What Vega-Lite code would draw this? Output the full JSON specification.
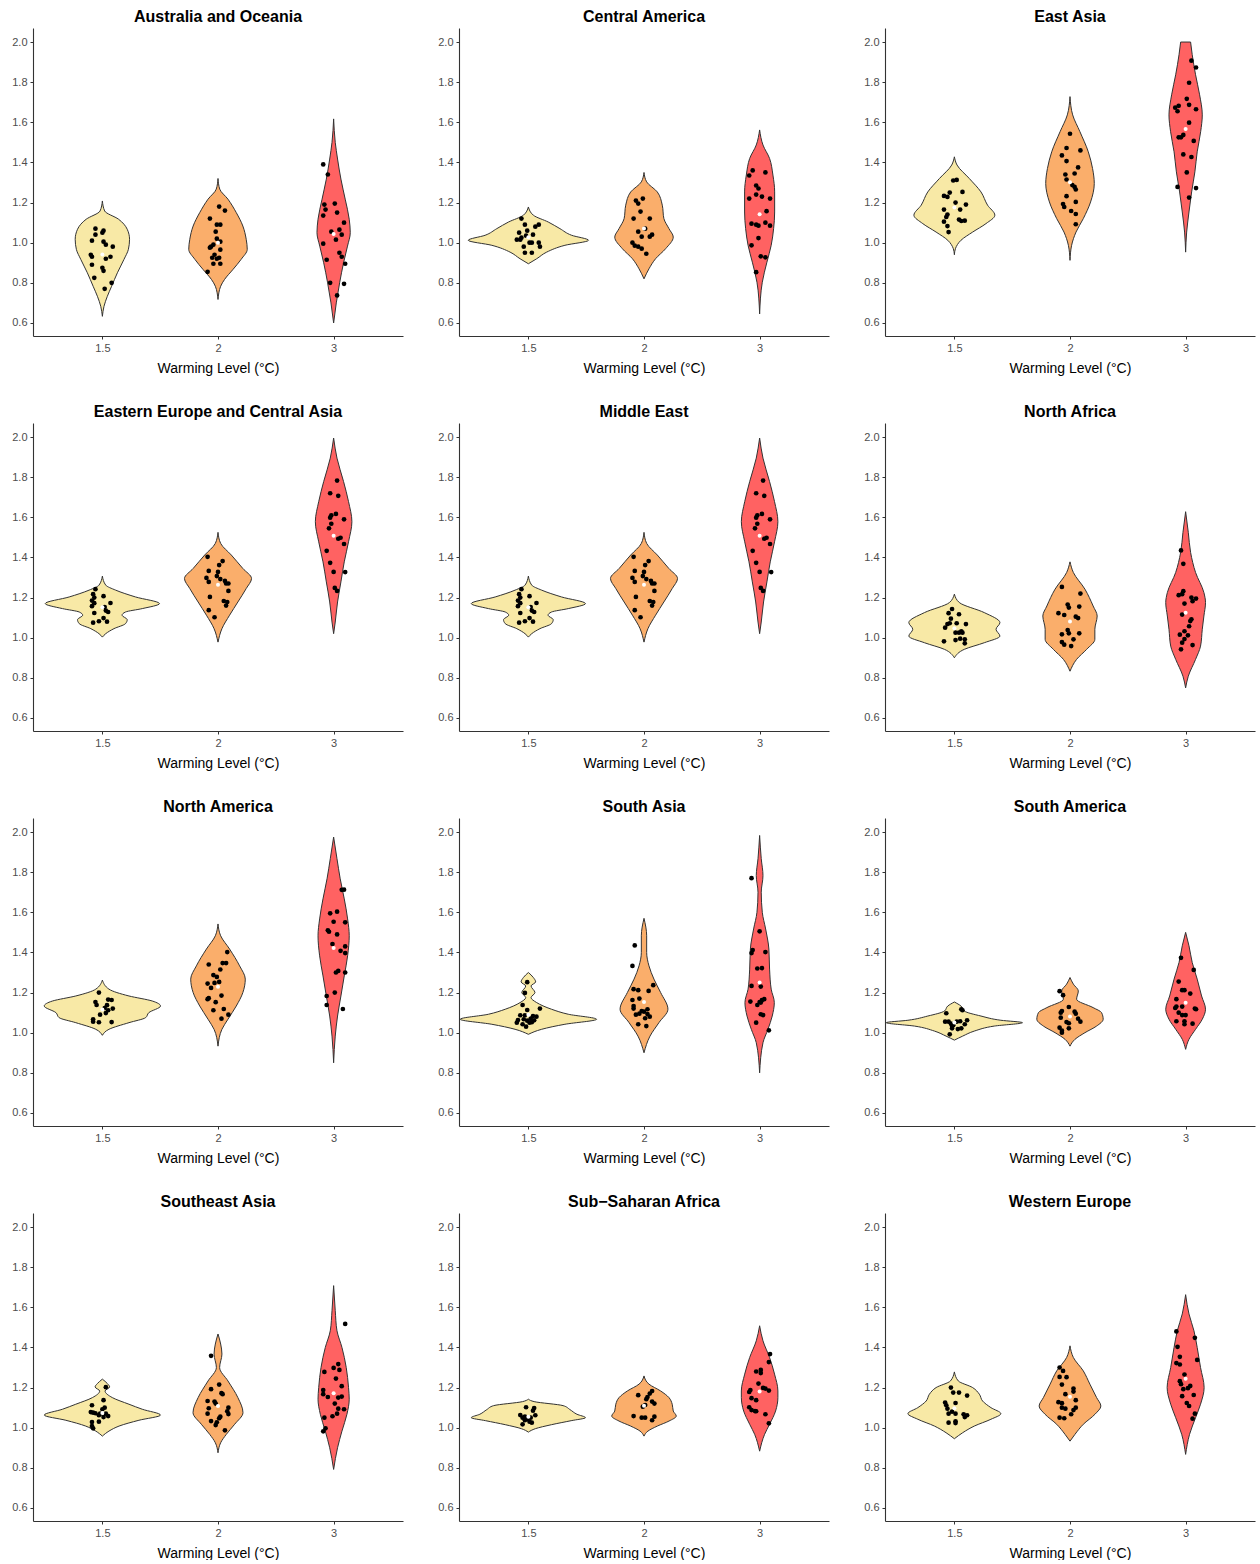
{
"$schema": "https://vega.github.io/schema/vega-lite/v6.json",
"background": "white",
"padding": {"left": 11, "top": 9, "right": 4, "bottom": 0},
"config": {
  "view": {"stroke": null},
  "font": "Liberation Sans",
  "axis": {"grid": false, "domainColor": "#333333", "domainWidth": 1.1, "tickColor": "#333333", "tickSize": 3, "labelColor": "#4D4D4D", "labelFontSize": 11, "titleFontSize": 14, "titleColor": "#000000", "titleFontWeight": "normal", "labelPadding": 3}
},
"data": {"values": [
{"r":"A","l":"1.5","y":1.208,"w":0},{"r":"A","l":"1.5","y":1.158,"w":0.02},{"r":"A","l":"1.5","y":1.117,"w":0.14},{"r":"A","l":"1.5","y":1.067,"w":0.215},{"r":"A","l":"1.5","y":1.017,"w":0.235},{"r":"A","l":"1.5","y":0.967,"w":0.225},{"r":"A","l":"1.5","y":0.917,"w":0.187},{"r":"A","l":"1.5","y":0.85,"w":0.13},{"r":"A","l":"1.5","y":0.783,"w":0.08},{"r":"A","l":"1.5","y":0.733,"w":0.043},{"r":"A","l":"1.5","y":0.683,"w":0.014},{"r":"A","l":"1.5","y":0.633,"w":0},
{"r":"A","l":"2","y":1.32,"w":0},{"r":"A","l":"2","y":1.267,"w":0.015},{"r":"A","l":"2","y":1.217,"w":0.086},{"r":"A","l":"2","y":1.15,"w":0.158},{"r":"A","l":"2","y":1.083,"w":0.215},{"r":"A","l":"2","y":1.017,"w":0.244},{"r":"A","l":"2","y":0.967,"w":0.253},{"r":"A","l":"2","y":0.917,"w":0.2},{"r":"A","l":"2","y":0.867,"w":0.13},{"r":"A","l":"2","y":0.817,"w":0.057},{"r":"A","l":"2","y":0.783,"w":0.023},{"r":"A","l":"2","y":0.717,"w":0},
{"r":"A","l":"3","y":1.617,"w":0},{"r":"A","l":"3","y":1.5,"w":0.014},{"r":"A","l":"3","y":1.417,"w":0.034},{"r":"A","l":"3","y":1.317,"w":0.063},{"r":"A","l":"3","y":1.217,"w":0.1},{"r":"A","l":"3","y":1.117,"w":0.135},{"r":"A","l":"3","y":1.05,"w":0.144},{"r":"A","l":"3","y":0.983,"w":0.12},{"r":"A","l":"3","y":0.9,"w":0.086},{"r":"A","l":"3","y":0.8,"w":0.052},{"r":"A","l":"3","y":0.7,"w":0.023},{"r":"A","l":"3","y":0.6,"w":0},
{"r":"B","l":"1.5","y":1.178,"w":0},{"r":"B","l":"1.5","y":1.137,"w":0.043},{"r":"B","l":"1.5","y":1.103,"w":0.172},{"r":"B","l":"1.5","y":1.07,"w":0.273},{"r":"B","l":"1.5","y":1.037,"w":0.374},{"r":"B","l":"1.5","y":1.012,"w":0.52},{"r":"B","l":"1.5","y":0.987,"w":0.316},{"r":"B","l":"1.5","y":0.953,"w":0.158},{"r":"B","l":"1.5","y":0.92,"w":0.072},{"r":"B","l":"1.5","y":0.895,"w":0},
{"r":"B","l":"2","y":1.35,"w":0},{"r":"B","l":"2","y":1.303,"w":0.023},{"r":"B","l":"2","y":1.253,"w":0.115},{"r":"B","l":"2","y":1.187,"w":0.158},{"r":"B","l":"2","y":1.12,"w":0.172},{"r":"B","l":"2","y":1.07,"w":0.216},{"r":"B","l":"2","y":1.028,"w":0.253},{"r":"B","l":"2","y":0.97,"w":0.187},{"r":"B","l":"2","y":0.92,"w":0.1},{"r":"B","l":"2","y":0.87,"w":0.043},{"r":"B","l":"2","y":0.82,"w":0},
{"r":"B","l":"3","y":1.562,"w":0},{"r":"B","l":"3","y":1.487,"w":0.029},{"r":"B","l":"3","y":1.42,"w":0.086},{"r":"B","l":"3","y":1.337,"w":0.115},{"r":"B","l":"3","y":1.253,"w":0.13},{"r":"B","l":"3","y":1.153,"w":0.13},{"r":"B","l":"3","y":1.07,"w":0.121},{"r":"B","l":"3","y":0.987,"w":0.1},{"r":"B","l":"3","y":0.903,"w":0.063},{"r":"B","l":"3","y":0.803,"w":0.023},{"r":"B","l":"3","y":0.645,"w":0},
{"r":"C","l":"1.5","y":1.428,"w":0},{"r":"C","l":"1.5","y":1.387,"w":0.023},{"r":"C","l":"1.5","y":1.32,"w":0.129},{"r":"C","l":"1.5","y":1.253,"w":0.23},{"r":"C","l":"1.5","y":1.187,"w":0.287},{"r":"C","l":"1.5","y":1.137,"w":0.35},{"r":"C","l":"1.5","y":1.095,"w":0.273},{"r":"C","l":"1.5","y":1.053,"w":0.158},{"r":"C","l":"1.5","y":1.012,"w":0.057},{"r":"C","l":"1.5","y":0.97,"w":0.009},{"r":"C","l":"1.5","y":0.94,"w":0},
{"r":"C","l":"2","y":1.728,"w":0},{"r":"C","l":"2","y":1.637,"w":0.023},{"r":"C","l":"2","y":1.553,"w":0.086},{"r":"C","l":"2","y":1.453,"w":0.158},{"r":"C","l":"2","y":1.37,"w":0.195},{"r":"C","l":"2","y":1.295,"w":0.21},{"r":"C","l":"2","y":1.203,"w":0.178},{"r":"C","l":"2","y":1.12,"w":0.115},{"r":"C","l":"2","y":1.053,"w":0.052},{"r":"C","l":"2","y":0.987,"w":0.014},{"r":"C","l":"2","y":0.912,"w":0},
{"r":"C","l":"3","y":2.0,"w":0.043},{"r":"C","l":"3","y":1.937,"w":0.057},{"r":"C","l":"3","y":1.837,"w":0.086},{"r":"C","l":"3","y":1.737,"w":0.121},{"r":"C","l":"3","y":1.637,"w":0.144},{"r":"C","l":"3","y":1.553,"w":0.13},{"r":"C","l":"3","y":1.453,"w":0.1},{"r":"C","l":"3","y":1.353,"w":0.08},{"r":"C","l":"3","y":1.253,"w":0.052},{"r":"C","l":"3","y":1.153,"w":0.029},{"r":"C","l":"3","y":1.053,"w":0.009},{"r":"C","l":"3","y":0.953,"w":0},
{"r":"D","l":"1.5","y":1.307,"w":0},{"r":"D","l":"1.5","y":1.262,"w":0.029},{"r":"D","l":"1.5","y":1.237,"w":0.115},{"r":"D","l":"1.5","y":1.203,"w":0.287},{"r":"D","l":"1.5","y":1.17,"w":0.494},{"r":"D","l":"1.5","y":1.145,"w":0.345},{"r":"D","l":"1.5","y":1.128,"w":0.2},{"r":"D","l":"1.5","y":1.112,"w":0.17},{"r":"D","l":"1.5","y":1.09,"w":0.215},{"r":"D","l":"1.5","y":1.07,"w":0.2},{"r":"D","l":"1.5","y":1.045,"w":0.1},{"r":"D","l":"1.5","y":1.02,"w":0.029},{"r":"D","l":"1.5","y":1.003,"w":0},
{"r":"D","l":"2","y":1.525,"w":0},{"r":"D","l":"2","y":1.47,"w":0.023},{"r":"D","l":"2","y":1.412,"w":0.115},{"r":"D","l":"2","y":1.345,"w":0.215},{"r":"D","l":"2","y":1.295,"w":0.29},{"r":"D","l":"2","y":1.245,"w":0.244},{"r":"D","l":"2","y":1.178,"w":0.172},{"r":"D","l":"2","y":1.112,"w":0.1},{"r":"D","l":"2","y":1.045,"w":0.034},{"r":"D","l":"2","y":0.978,"w":0},
{"r":"D","l":"3","y":1.995,"w":0},{"r":"D","l":"3","y":1.895,"w":0.029},{"r":"D","l":"3","y":1.778,"w":0.086},{"r":"D","l":"3","y":1.678,"w":0.129},{"r":"D","l":"3","y":1.578,"w":0.158},{"r":"D","l":"3","y":1.478,"w":0.129},{"r":"D","l":"3","y":1.378,"w":0.092},{"r":"D","l":"3","y":1.278,"w":0.063},{"r":"D","l":"3","y":1.178,"w":0.034},{"r":"D","l":"3","y":1.078,"w":0.014},{"r":"D","l":"3","y":1.02,"w":0},
{"r":"E","l":"1.5","y":1.307,"w":0},{"r":"E","l":"1.5","y":1.262,"w":0.029},{"r":"E","l":"1.5","y":1.237,"w":0.115},{"r":"E","l":"1.5","y":1.203,"w":0.287},{"r":"E","l":"1.5","y":1.17,"w":0.494},{"r":"E","l":"1.5","y":1.145,"w":0.345},{"r":"E","l":"1.5","y":1.128,"w":0.2},{"r":"E","l":"1.5","y":1.112,"w":0.17},{"r":"E","l":"1.5","y":1.09,"w":0.215},{"r":"E","l":"1.5","y":1.07,"w":0.2},{"r":"E","l":"1.5","y":1.045,"w":0.1},{"r":"E","l":"1.5","y":1.02,"w":0.029},{"r":"E","l":"1.5","y":1.003,"w":0},
{"r":"E","l":"2","y":1.525,"w":0},{"r":"E","l":"2","y":1.47,"w":0.023},{"r":"E","l":"2","y":1.412,"w":0.115},{"r":"E","l":"2","y":1.345,"w":0.215},{"r":"E","l":"2","y":1.295,"w":0.29},{"r":"E","l":"2","y":1.245,"w":0.244},{"r":"E","l":"2","y":1.178,"w":0.172},{"r":"E","l":"2","y":1.112,"w":0.1},{"r":"E","l":"2","y":1.045,"w":0.034},{"r":"E","l":"2","y":0.978,"w":0},
{"r":"E","l":"3","y":1.995,"w":0},{"r":"E","l":"3","y":1.895,"w":0.029},{"r":"E","l":"3","y":1.778,"w":0.086},{"r":"E","l":"3","y":1.678,"w":0.129},{"r":"E","l":"3","y":1.578,"w":0.158},{"r":"E","l":"3","y":1.478,"w":0.129},{"r":"E","l":"3","y":1.378,"w":0.092},{"r":"E","l":"3","y":1.278,"w":0.063},{"r":"E","l":"3","y":1.178,"w":0.034},{"r":"E","l":"3","y":1.078,"w":0.014},{"r":"E","l":"3","y":1.02,"w":0},
{"r":"F","l":"1.5","y":1.217,"w":0},{"r":"F","l":"1.5","y":1.175,"w":0.043},{"r":"F","l":"1.5","y":1.125,"w":0.259},{"r":"F","l":"1.5","y":1.075,"w":0.394},{"r":"F","l":"1.5","y":1.042,"w":0.36},{"r":"F","l":"1.5","y":1.008,"w":0.394},{"r":"F","l":"1.5","y":0.975,"w":0.259},{"r":"F","l":"1.5","y":0.942,"w":0.086},{"r":"F","l":"1.5","y":0.9,"w":0},
{"r":"F","l":"2","y":1.378,"w":0},{"r":"F","l":"2","y":1.325,"w":0.029},{"r":"F","l":"2","y":1.242,"w":0.129},{"r":"F","l":"2","y":1.158,"w":0.2},{"r":"F","l":"2","y":1.108,"w":0.235},{"r":"F","l":"2","y":1.042,"w":0.215},{"r":"F","l":"2","y":0.992,"w":0.215},{"r":"F","l":"2","y":0.942,"w":0.144},{"r":"F","l":"2","y":0.892,"w":0.057},{"r":"F","l":"2","y":0.833,"w":0},
{"r":"F","l":"3","y":1.628,"w":0},{"r":"F","l":"3","y":1.525,"w":0.023},{"r":"F","l":"3","y":1.425,"w":0.043},{"r":"F","l":"3","y":1.325,"w":0.086},{"r":"F","l":"3","y":1.225,"w":0.158},{"r":"F","l":"3","y":1.175,"w":0.172},{"r":"F","l":"3","y":1.108,"w":0.158},{"r":"F","l":"3","y":1.042,"w":0.144},{"r":"F","l":"3","y":0.958,"w":0.129},{"r":"F","l":"3","y":0.892,"w":0.086},{"r":"F","l":"3","y":0.808,"w":0.023},{"r":"F","l":"3","y":0.75,"w":0},
{"r":"G","l":"1.5","y":1.262,"w":0},{"r":"G","l":"1.5","y":1.217,"w":0.057},{"r":"G","l":"1.5","y":1.183,"w":0.23},{"r":"G","l":"1.5","y":1.158,"w":0.431},{"r":"G","l":"1.5","y":1.133,"w":0.503},{"r":"G","l":"1.5","y":1.1,"w":0.402},{"r":"G","l":"1.5","y":1.075,"w":0.374},{"r":"G","l":"1.5","y":1.05,"w":0.23},{"r":"G","l":"1.5","y":1.017,"w":0.057},{"r":"G","l":"1.5","y":0.987,"w":0},
{"r":"G","l":"2","y":1.542,"w":0},{"r":"G","l":"2","y":1.483,"w":0.023},{"r":"G","l":"2","y":1.417,"w":0.1},{"r":"G","l":"2","y":1.333,"w":0.187},{"r":"G","l":"2","y":1.267,"w":0.236},{"r":"G","l":"2","y":1.2,"w":0.215},{"r":"G","l":"2","y":1.133,"w":0.158},{"r":"G","l":"2","y":1.067,"w":0.086},{"r":"G","l":"2","y":1.017,"w":0.034},{"r":"G","l":"2","y":0.933,"w":0},
{"r":"G","l":"3","y":1.975,"w":0},{"r":"G","l":"3","y":1.867,"w":0.029},{"r":"G","l":"3","y":1.767,"w":0.057},{"r":"G","l":"3","y":1.667,"w":0.092},{"r":"G","l":"3","y":1.567,"w":0.121},{"r":"G","l":"3","y":1.483,"w":0.135},{"r":"G","l":"3","y":1.383,"w":0.121},{"r":"G","l":"3","y":1.283,"w":0.092},{"r":"G","l":"3","y":1.183,"w":0.063},{"r":"G","l":"3","y":1.083,"w":0.034},{"r":"G","l":"3","y":0.983,"w":0.014},{"r":"G","l":"3","y":0.85,"w":0},
{"r":"H","l":"1.5","y":1.3,"w":0},{"r":"H","l":"1.5","y":1.275,"w":0.043},{"r":"H","l":"1.5","y":1.253,"w":0.063},{"r":"H","l":"1.5","y":1.233,"w":0.023},{"r":"H","l":"1.5","y":1.2,"w":0.057},{"r":"H","l":"1.5","y":1.175,"w":0.023},{"r":"H","l":"1.5","y":1.15,"w":0.072},{"r":"H","l":"1.5","y":1.117,"w":0.2},{"r":"H","l":"1.5","y":1.092,"w":0.345},{"r":"H","l":"1.5","y":1.067,"w":0.59},{"r":"H","l":"1.5","y":1.042,"w":0.316},{"r":"H","l":"1.5","y":1.017,"w":0.115},{"r":"H","l":"1.5","y":0.992,"w":0},
{"r":"H","l":"2","y":1.57,"w":0},{"r":"H","l":"2","y":1.483,"w":0.023},{"r":"H","l":"2","y":1.4,"w":0.023},{"r":"H","l":"2","y":1.333,"w":0.043},{"r":"H","l":"2","y":1.267,"w":0.086},{"r":"H","l":"2","y":1.2,"w":0.144},{"r":"H","l":"2","y":1.117,"w":0.207},{"r":"H","l":"2","y":1.05,"w":0.129},{"r":"H","l":"2","y":0.983,"w":0.052},{"r":"H","l":"2","y":0.9,"w":0},
{"r":"H","l":"3","y":1.983,"w":0},{"r":"H","l":"3","y":1.867,"w":0.014},{"r":"H","l":"3","y":1.783,"w":0.029},{"r":"H","l":"3","y":1.7,"w":0.014},{"r":"H","l":"3","y":1.6,"w":0.023},{"r":"H","l":"3","y":1.517,"w":0.052},{"r":"H","l":"3","y":1.417,"w":0.08},{"r":"H","l":"3","y":1.317,"w":0.086},{"r":"H","l":"3","y":1.217,"w":0.1},{"r":"H","l":"3","y":1.15,"w":0.127},{"r":"H","l":"3","y":1.083,"w":0.109},{"r":"H","l":"3","y":1.017,"w":0.072},{"r":"H","l":"3","y":0.95,"w":0.029},{"r":"H","l":"3","y":0.8,"w":0},
{"r":"I","l":"1.5","y":1.153,"w":0},{"r":"I","l":"1.5","y":1.133,"w":0.057},{"r":"I","l":"1.5","y":1.108,"w":0.086},{"r":"I","l":"1.5","y":1.083,"w":0.23},{"r":"I","l":"1.5","y":1.062,"w":0.402},{"r":"I","l":"1.5","y":1.05,"w":0.589},{"r":"I","l":"1.5","y":1.033,"w":0.345},{"r":"I","l":"1.5","y":1.008,"w":0.172},{"r":"I","l":"1.5","y":0.983,"w":0.072},{"r":"I","l":"1.5","y":0.963,"w":0},
{"r":"I","l":"2","y":1.275,"w":0},{"r":"I","l":"2","y":1.242,"w":0.029},{"r":"I","l":"2","y":1.208,"w":0.072},{"r":"I","l":"2","y":1.167,"w":0.057},{"r":"I","l":"2","y":1.125,"w":0.2},{"r":"I","l":"2","y":1.1,"w":0.273},{"r":"I","l":"2","y":1.067,"w":0.287},{"r":"I","l":"2","y":1.033,"w":0.23},{"r":"I","l":"2","y":1.0,"w":0.129},{"r":"I","l":"2","y":0.967,"w":0.043},{"r":"I","l":"2","y":0.933,"w":0},
{"r":"I","l":"3","y":1.5,"w":0},{"r":"I","l":"3","y":1.433,"w":0.029},{"r":"I","l":"3","y":1.35,"w":0.057},{"r":"I","l":"3","y":1.267,"w":0.1},{"r":"I","l":"3","y":1.183,"w":0.138},{"r":"I","l":"3","y":1.117,"w":0.172},{"r":"I","l":"3","y":1.067,"w":0.144},{"r":"I","l":"3","y":1.017,"w":0.086},{"r":"I","l":"3","y":0.967,"w":0.029},{"r":"I","l":"3","y":0.917,"w":0},
{"r":"J","l":"1.5","y":1.242,"w":0},{"r":"J","l":"1.5","y":1.22,"w":0.043},{"r":"J","l":"1.5","y":1.203,"w":0.063},{"r":"J","l":"1.5","y":1.183,"w":0.023},{"r":"J","l":"1.5","y":1.15,"w":0.086},{"r":"J","l":"1.5","y":1.117,"w":0.23},{"r":"J","l":"1.5","y":1.092,"w":0.345},{"r":"J","l":"1.5","y":1.063,"w":0.503},{"r":"J","l":"1.5","y":1.037,"w":0.316},{"r":"J","l":"1.5","y":1.008,"w":0.144},{"r":"J","l":"1.5","y":0.983,"w":0.057},{"r":"J","l":"1.5","y":0.958,"w":0},
{"r":"J","l":"2","y":1.467,"w":0},{"r":"J","l":"2","y":1.417,"w":0.023},{"r":"J","l":"2","y":1.367,"w":0.034},{"r":"J","l":"2","y":1.3,"w":0.014},{"r":"J","l":"2","y":1.233,"w":0.086},{"r":"J","l":"2","y":1.15,"w":0.172},{"r":"J","l":"2","y":1.075,"w":0.216},{"r":"J","l":"2","y":1.017,"w":0.144},{"r":"J","l":"2","y":0.967,"w":0.072},{"r":"J","l":"2","y":0.925,"w":0.023},{"r":"J","l":"2","y":0.875,"w":0},
{"r":"J","l":"3","y":1.708,"w":0},{"r":"J","l":"3","y":1.583,"w":0.014},{"r":"J","l":"3","y":1.483,"w":0.029},{"r":"J","l":"3","y":1.4,"w":0.072},{"r":"J","l":"3","y":1.3,"w":0.109},{"r":"J","l":"3","y":1.2,"w":0.129},{"r":"J","l":"3","y":1.142,"w":0.135},{"r":"J","l":"3","y":1.067,"w":0.115},{"r":"J","l":"3","y":0.983,"w":0.072},{"r":"J","l":"3","y":0.9,"w":0.034},{"r":"J","l":"3","y":0.792,"w":0},
{"r":"K","l":"1.5","y":1.142,"w":0},{"r":"K","l":"1.5","y":1.13,"w":0.05},{"r":"K","l":"1.5","y":1.11,"w":0.3},{"r":"K","l":"1.5","y":1.09,"w":0.36},{"r":"K","l":"1.5","y":1.067,"w":0.42},{"r":"K","l":"1.5","y":1.05,"w":0.494},{"r":"K","l":"1.5","y":1.035,"w":0.37},{"r":"K","l":"1.5","y":1.015,"w":0.2},{"r":"K","l":"1.5","y":0.995,"w":0.06},{"r":"K","l":"1.5","y":0.978,"w":0},
{"r":"K","l":"2","y":1.258,"w":0},{"r":"K","l":"2","y":1.217,"w":0.043},{"r":"K","l":"2","y":1.183,"w":0.144},{"r":"K","l":"2","y":1.15,"w":0.216},{"r":"K","l":"2","y":1.117,"w":0.244},{"r":"K","l":"2","y":1.083,"w":0.253},{"r":"K","l":"2","y":1.058,"w":0.279},{"r":"K","l":"2","y":1.033,"w":0.216},{"r":"K","l":"2","y":1.008,"w":0.115},{"r":"K","l":"2","y":0.983,"w":0.034},{"r":"K","l":"2","y":0.958,"w":0},
{"r":"K","l":"3","y":1.508,"w":0},{"r":"K","l":"3","y":1.433,"w":0.029},{"r":"K","l":"3","y":1.35,"w":0.086},{"r":"K","l":"3","y":1.267,"w":0.129},{"r":"K","l":"3","y":1.183,"w":0.158},{"r":"K","l":"3","y":1.15,"w":0.158},{"r":"K","l":"3","y":1.083,"w":0.138},{"r":"K","l":"3","y":1.017,"w":0.086},{"r":"K","l":"3","y":0.967,"w":0.043},{"r":"K","l":"3","y":0.883,"w":0},
{"r":"L","l":"1.5","y":1.278,"w":0},{"r":"L","l":"1.5","y":1.233,"w":0.034},{"r":"L","l":"1.5","y":1.2,"w":0.158},{"r":"L","l":"1.5","y":1.167,"w":0.216},{"r":"L","l":"1.5","y":1.133,"w":0.244},{"r":"L","l":"1.5","y":1.1,"w":0.316},{"r":"L","l":"1.5","y":1.07,"w":0.402},{"r":"L","l":"1.5","y":1.042,"w":0.316},{"r":"L","l":"1.5","y":1.008,"w":0.172},{"r":"L","l":"1.5","y":0.975,"w":0.072},{"r":"L","l":"1.5","y":0.945,"w":0},
{"r":"L","l":"2","y":1.408,"w":0},{"r":"L","l":"2","y":1.35,"w":0.029},{"r":"L","l":"2","y":1.283,"w":0.115},{"r":"L","l":"2","y":1.217,"w":0.172},{"r":"L","l":"2","y":1.15,"w":0.23},{"r":"L","l":"2","y":1.108,"w":0.267},{"r":"L","l":"2","y":1.067,"w":0.216},{"r":"L","l":"2","y":1.017,"w":0.115},{"r":"L","l":"2","y":0.967,"w":0.043},{"r":"L","l":"2","y":0.933,"w":0},
{"r":"L","l":"3","y":1.663,"w":0},{"r":"L","l":"3","y":1.567,"w":0.029},{"r":"L","l":"3","y":1.483,"w":0.072},{"r":"L","l":"3","y":1.4,"w":0.1},{"r":"L","l":"3","y":1.3,"w":0.129},{"r":"L","l":"3","y":1.2,"w":0.16},{"r":"L","l":"3","y":1.117,"w":0.129},{"r":"L","l":"3","y":1.05,"w":0.086},{"r":"L","l":"3","y":0.967,"w":0.034},{"r":"L","l":"3","y":0.867,"w":0},
{"r":"A","l":"1.5","v":1.07,"j":-0.06},{"r":"A","l":"1.5","v":1.06,"j":0.01},{"r":"A","l":"1.5","v":1.04,"j":-0.06},{"r":"A","l":"1.5","v":1.05,"j":0},{"r":"A","l":"1.5","v":1.01,"j":-0.09},{"r":"A","l":"1.5","v":1.005,"j":0.01},{"r":"A","l":"1.5","v":0.99,"j":0.03},{"r":"A","l":"1.5","v":0.98,"j":0.09},{"r":"A","l":"1.5","v":0.94,"j":-0.1},{"r":"A","l":"1.5","v":0.93,"j":-0.09},{"r":"A","l":"1.5","v":0.93,"j":0.07},{"r":"A","l":"1.5","v":0.92,"j":0.03},{"r":"A","l":"1.5","v":0.89,"j":-0.09},{"r":"A","l":"1.5","v":0.875,"j":0},{"r":"A","l":"1.5","v":0.86,"j":0.01},{"r":"A","l":"1.5","v":0.825,"j":-0.07},{"r":"A","l":"1.5","v":0.8,"j":0.08},{"r":"A","l":"1.5","v":0.77,"j":0.02},
{"r":"A","l":"2","v":1.18,"j":0.01},{"r":"A","l":"2","v":1.16,"j":0.06},{"r":"A","l":"2","v":1.12,"j":-0.07},{"r":"A","l":"2","v":1.09,"j":-0.01},{"r":"A","l":"2","v":1.09,"j":0.02},{"r":"A","l":"2","v":1.055,"j":-0.02},{"r":"A","l":"2","v":1.02,"j":-0.01},{"r":"A","l":"2","v":1.005,"j":0.02},{"r":"A","l":"2","v":0.99,"j":-0.04},{"r":"A","l":"2","v":0.98,"j":-0.06},{"r":"A","l":"2","v":0.975,"j":-0.07},{"r":"A","l":"2","v":0.965,"j":0.02},{"r":"A","l":"2","v":0.94,"j":-0.03},{"r":"A","l":"2","v":0.925,"j":-0.05},{"r":"A","l":"2","v":0.925,"j":0.01},{"r":"A","l":"2","v":0.92,"j":-0.01},{"r":"A","l":"2","v":0.895,"j":-0.04},{"r":"A","l":"2","v":0.895,"j":0.02},{"r":"A","l":"2","v":0.855,"j":-0.09},
{"r":"A","l":"3","v":1.39,"j":-0.09},{"r":"A","l":"3","v":1.34,"j":-0.05},{"r":"A","l":"3","v":1.19,"j":-0.08},{"r":"A","l":"3","v":1.195,"j":0.01},{"r":"A","l":"3","v":1.165,"j":-0.07},{"r":"A","l":"3","v":1.15,"j":0.03},{"r":"A","l":"3","v":1.135,"j":-0.09},{"r":"A","l":"3","v":1.1,"j":0.09},{"r":"A","l":"3","v":1.055,"j":-0.02},{"r":"A","l":"3","v":1.065,"j":0.05},{"r":"A","l":"3","v":1.04,"j":0.07},{"r":"A","l":"3","v":1.015,"j":0.02},{"r":"A","l":"3","v":0.995,"j":-0.09},{"r":"A","l":"3","v":0.95,"j":0.05},{"r":"A","l":"3","v":0.93,"j":0.07},{"r":"A","l":"3","v":0.915,"j":-0.06},{"r":"A","l":"3","v":0.895,"j":0.1},{"r":"A","l":"3","v":0.8,"j":-0.03},{"r":"A","l":"3","v":0.795,"j":0.09},{"r":"A","l":"3","v":0.737,"j":0.03},
{"r":"B","l":"1.5","v":1.12,"j":-0.06},{"r":"B","l":"1.5","v":1.09,"j":-0.03},{"r":"B","l":"1.5","v":1.09,"j":0.09},{"r":"B","l":"1.5","v":1.08,"j":0.06},{"r":"B","l":"1.5","v":1.06,"j":-0.01},{"r":"B","l":"1.5","v":1.05,"j":-0.08},{"r":"B","l":"1.5","v":1.04,"j":0.04},{"r":"B","l":"1.5","v":1.035,"j":-0.02},{"r":"B","l":"1.5","v":1.025,"j":-0.06},{"r":"B","l":"1.5","v":1.015,"j":-0.1},{"r":"B","l":"1.5","v":1.015,"j":-0.07},{"r":"B","l":"1.5","v":1.0,"j":0.01},{"r":"B","l":"1.5","v":1.0,"j":0.03},{"r":"B","l":"1.5","v":1.0,"j":0.09},{"r":"B","l":"1.5","v":0.98,"j":-0.04},{"r":"B","l":"1.5","v":0.98,"j":0.1},{"r":"B","l":"1.5","v":0.95,"j":-0.03},{"r":"B","l":"1.5","v":0.95,"j":0.03},
{"r":"B","l":"2","v":1.21,"j":-0.07},{"r":"B","l":"2","v":1.22,"j":-0.01},{"r":"B","l":"2","v":1.195,"j":-0.05},{"r":"B","l":"2","v":1.155,"j":-0.03},{"r":"B","l":"2","v":1.12,"j":-0.09},{"r":"B","l":"2","v":1.12,"j":0.05},{"r":"B","l":"2","v":1.055,"j":-0.05},{"r":"B","l":"2","v":1.07,"j":0.01},{"r":"B","l":"2","v":1.03,"j":-0.02},{"r":"B","l":"2","v":1.04,"j":0.07},{"r":"B","l":"2","v":1.03,"j":0.05},{"r":"B","l":"2","v":1.0,"j":-0.1},{"r":"B","l":"2","v":0.985,"j":-0.08},{"r":"B","l":"2","v":0.98,"j":-0.05},{"r":"B","l":"2","v":0.97,"j":-0.02},{"r":"B","l":"2","v":0.945,"j":0.02},
{"r":"B","l":"3","v":1.335,"j":-0.09},{"r":"B","l":"3","v":1.36,"j":-0.06},{"r":"B","l":"3","v":1.35,"j":0.05},{"r":"B","l":"3","v":1.285,"j":-0.03},{"r":"B","l":"3","v":1.27,"j":-0.01},{"r":"B","l":"3","v":1.24,"j":-0.03},{"r":"B","l":"3","v":1.23,"j":0.02},{"r":"B","l":"3","v":1.22,"j":-0.09},{"r":"B","l":"3","v":1.22,"j":0.09},{"r":"B","l":"3","v":1.157,"j":0.06},{"r":"B","l":"3","v":1.095,"j":-0.07},{"r":"B","l":"3","v":1.09,"j":-0.03},{"r":"B","l":"3","v":1.1,"j":0.05},{"r":"B","l":"3","v":1.085,"j":-0.01},{"r":"B","l":"3","v":1.085,"j":0.09},{"r":"B","l":"3","v":1.023,"j":-0.01},{"r":"B","l":"3","v":0.987,"j":-0.07},{"r":"B","l":"3","v":0.932,"j":0.01},{"r":"B","l":"3","v":0.927,"j":0.05},{"r":"B","l":"3","v":0.853,"j":-0.03},
{"r":"C","l":"1.5","v":1.31,"j":-0.01},{"r":"C","l":"1.5","v":1.313,"j":0.02},{"r":"C","l":"1.5","v":1.233,"j":-0.09},{"r":"C","l":"1.5","v":1.228,"j":-0.06},{"r":"C","l":"1.5","v":1.25,"j":-0.04},{"r":"C","l":"1.5","v":1.253,"j":0.07},{"r":"C","l":"1.5","v":1.2,"j":0.01},{"r":"C","l":"1.5","v":1.19,"j":0.1},{"r":"C","l":"1.5","v":1.165,"j":-0.09},{"r":"C","l":"1.5","v":1.165,"j":0.05},{"r":"C","l":"1.5","v":1.14,"j":-0.06},{"r":"C","l":"1.5","v":1.128,"j":-0.07},{"r":"C","l":"1.5","v":1.105,"j":-0.09},{"r":"C","l":"1.5","v":1.115,"j":0.04},{"r":"C","l":"1.5","v":1.108,"j":0.06},{"r":"C","l":"1.5","v":1.11,"j":0.09},{"r":"C","l":"1.5","v":1.083,"j":-0.06},{"r":"C","l":"1.5","v":1.053,"j":-0.05},
{"r":"C","l":"2","v":1.543,"j":0},{"r":"C","l":"2","v":1.472,"j":-0.03},{"r":"C","l":"2","v":1.46,"j":0.09},{"r":"C","l":"2","v":1.435,"j":-0.07},{"r":"C","l":"2","v":1.407,"j":-0.03},{"r":"C","l":"2","v":1.375,"j":0.07},{"r":"C","l":"2","v":1.345,"j":0.04},{"r":"C","l":"2","v":1.34,"j":-0.04},{"r":"C","l":"2","v":1.315,"j":-0.03},{"r":"C","l":"2","v":1.287,"j":0.02},{"r":"C","l":"2","v":1.278,"j":0.04},{"r":"C","l":"2","v":1.265,"j":0.05},{"r":"C","l":"2","v":1.232,"j":-0.03},{"r":"C","l":"2","v":1.193,"j":-0.06},{"r":"C","l":"2","v":1.203,"j":0.05},{"r":"C","l":"2","v":1.178,"j":-0.05},{"r":"C","l":"2","v":1.158,"j":0.01},{"r":"C","l":"2","v":1.143,"j":0.05},{"r":"C","l":"2","v":1.092,"j":0.05},
{"r":"C","l":"3","v":1.907,"j":0.05},{"r":"C","l":"3","v":1.873,"j":0.09},{"r":"C","l":"3","v":1.797,"j":0.03},{"r":"C","l":"3","v":1.717,"j":0.01},{"r":"C","l":"3","v":1.687,"j":0.03},{"r":"C","l":"3","v":1.673,"j":-0.09},{"r":"C","l":"3","v":1.655,"j":-0.07},{"r":"C","l":"3","v":1.682,"j":-0.06},{"r":"C","l":"3","v":1.665,"j":0.09},{"r":"C","l":"3","v":1.598,"j":0.03},{"r":"C","l":"3","v":1.537,"j":-0.02},{"r":"C","l":"3","v":1.525,"j":-0.04},{"r":"C","l":"3","v":1.525,"j":-0.06},{"r":"C","l":"3","v":1.507,"j":0.07},{"r":"C","l":"3","v":1.44,"j":-0.02},{"r":"C","l":"3","v":1.427,"j":0.05},{"r":"C","l":"3","v":1.35,"j":0.01},{"r":"C","l":"3","v":1.278,"j":-0.07},{"r":"C","l":"3","v":1.272,"j":0.09},{"r":"C","l":"3","v":1.225,"j":0.03},
{"r":"D","l":"1.5","v":1.242,"j":-0.06},{"r":"D","l":"1.5","v":1.217,"j":-0.08},{"r":"D","l":"1.5","v":1.2,"j":-0.07},{"r":"D","l":"1.5","v":1.207,"j":0.01},{"r":"D","l":"1.5","v":1.185,"j":-0.09},{"r":"D","l":"1.5","v":1.172,"j":-0.07},{"r":"D","l":"1.5","v":1.173,"j":0.07},{"r":"D","l":"1.5","v":1.153,"j":0.02},{"r":"D","l":"1.5","v":1.157,"j":-0.09},{"r":"D","l":"1.5","v":1.135,"j":0.03},{"r":"D","l":"1.5","v":1.128,"j":0.05},{"r":"D","l":"1.5","v":1.123,"j":-0.07},{"r":"D","l":"1.5","v":1.098,"j":0.01},{"r":"D","l":"1.5","v":1.075,"j":-0.08},{"r":"D","l":"1.5","v":1.082,"j":-0.03},{"r":"D","l":"1.5","v":1.08,"j":0.04},
{"r":"D","l":"2","v":1.403,"j":-0.09},{"r":"D","l":"2","v":1.382,"j":0.04},{"r":"D","l":"2","v":1.362,"j":0.01},{"r":"D","l":"2","v":1.333,"j":-0.08},{"r":"D","l":"2","v":1.328,"j":0},{"r":"D","l":"2","v":1.307,"j":-0.01},{"r":"D","l":"2","v":1.298,"j":-0.1},{"r":"D","l":"2","v":1.292,"j":0.02},{"r":"D","l":"2","v":1.283,"j":0.06},{"r":"D","l":"2","v":1.278,"j":-0.08},{"r":"D","l":"2","v":1.27,"j":0.09},{"r":"D","l":"2","v":1.27,"j":0.07},{"r":"D","l":"2","v":1.233,"j":0.09},{"r":"D","l":"2","v":1.203,"j":-0.07},{"r":"D","l":"2","v":1.183,"j":0.05},{"r":"D","l":"2","v":1.178,"j":0.08},{"r":"D","l":"2","v":1.16,"j":0.07},{"r":"D","l":"2","v":1.137,"j":-0.08},{"r":"D","l":"2","v":1.102,"j":-0.03},
{"r":"D","l":"3","v":1.783,"j":0.03},{"r":"D","l":"3","v":1.72,"j":-0.03},{"r":"D","l":"3","v":1.707,"j":0.04},{"r":"D","l":"3","v":1.617,"j":0.02},{"r":"D","l":"3","v":1.61,"j":-0.02},{"r":"D","l":"3","v":1.598,"j":-0.03},{"r":"D","l":"3","v":1.59,"j":0.09},{"r":"D","l":"3","v":1.568,"j":-0.02},{"r":"D","l":"3","v":1.545,"j":-0.04},{"r":"D","l":"3","v":1.498,"j":0.06},{"r":"D","l":"3","v":1.493,"j":0.04},{"r":"D","l":"3","v":1.467,"j":0.09},{"r":"D","l":"3","v":1.433,"j":-0.06},{"r":"D","l":"3","v":1.373,"j":-0.03},{"r":"D","l":"3","v":1.328,"j":0},{"r":"D","l":"3","v":1.327,"j":0.1},{"r":"D","l":"3","v":1.248,"j":0.01},{"r":"D","l":"3","v":1.233,"j":0.03},
{"r":"E","l":"1.5","v":1.242,"j":-0.06},{"r":"E","l":"1.5","v":1.217,"j":-0.08},{"r":"E","l":"1.5","v":1.2,"j":-0.07},{"r":"E","l":"1.5","v":1.207,"j":0.01},{"r":"E","l":"1.5","v":1.185,"j":-0.09},{"r":"E","l":"1.5","v":1.172,"j":-0.07},{"r":"E","l":"1.5","v":1.173,"j":0.07},{"r":"E","l":"1.5","v":1.153,"j":0.02},{"r":"E","l":"1.5","v":1.157,"j":-0.09},{"r":"E","l":"1.5","v":1.135,"j":0.03},{"r":"E","l":"1.5","v":1.128,"j":0.05},{"r":"E","l":"1.5","v":1.123,"j":-0.07},{"r":"E","l":"1.5","v":1.098,"j":0.01},{"r":"E","l":"1.5","v":1.075,"j":-0.08},{"r":"E","l":"1.5","v":1.082,"j":-0.03},{"r":"E","l":"1.5","v":1.08,"j":0.04},
{"r":"E","l":"2","v":1.403,"j":-0.09},{"r":"E","l":"2","v":1.382,"j":0.04},{"r":"E","l":"2","v":1.362,"j":0.01},{"r":"E","l":"2","v":1.333,"j":-0.08},{"r":"E","l":"2","v":1.328,"j":0},{"r":"E","l":"2","v":1.307,"j":-0.01},{"r":"E","l":"2","v":1.298,"j":-0.1},{"r":"E","l":"2","v":1.292,"j":0.02},{"r":"E","l":"2","v":1.283,"j":0.06},{"r":"E","l":"2","v":1.278,"j":-0.08},{"r":"E","l":"2","v":1.27,"j":0.09},{"r":"E","l":"2","v":1.27,"j":0.07},{"r":"E","l":"2","v":1.233,"j":0.09},{"r":"E","l":"2","v":1.203,"j":-0.07},{"r":"E","l":"2","v":1.183,"j":0.05},{"r":"E","l":"2","v":1.178,"j":0.08},{"r":"E","l":"2","v":1.16,"j":0.07},{"r":"E","l":"2","v":1.137,"j":-0.08},{"r":"E","l":"2","v":1.102,"j":-0.03},
{"r":"E","l":"3","v":1.783,"j":0.03},{"r":"E","l":"3","v":1.72,"j":-0.03},{"r":"E","l":"3","v":1.707,"j":0.04},{"r":"E","l":"3","v":1.617,"j":0.02},{"r":"E","l":"3","v":1.61,"j":-0.02},{"r":"E","l":"3","v":1.598,"j":-0.03},{"r":"E","l":"3","v":1.59,"j":0.09},{"r":"E","l":"3","v":1.568,"j":-0.02},{"r":"E","l":"3","v":1.545,"j":-0.04},{"r":"E","l":"3","v":1.498,"j":0.06},{"r":"E","l":"3","v":1.493,"j":0.04},{"r":"E","l":"3","v":1.467,"j":0.09},{"r":"E","l":"3","v":1.433,"j":-0.06},{"r":"E","l":"3","v":1.373,"j":-0.03},{"r":"E","l":"3","v":1.328,"j":0},{"r":"E","l":"3","v":1.327,"j":0.1},{"r":"E","l":"3","v":1.248,"j":0.01},{"r":"E","l":"3","v":1.233,"j":0.03},
{"r":"F","l":"1.5","v":1.143,"j":-0.02},{"r":"F","l":"1.5","v":1.122,"j":-0.05},{"r":"F","l":"1.5","v":1.117,"j":0.04},{"r":"F","l":"1.5","v":1.095,"j":-0.03},{"r":"F","l":"1.5","v":1.068,"j":-0.06},{"r":"F","l":"1.5","v":1.072,"j":-0.04},{"r":"F","l":"1.5","v":1.072,"j":0.02},{"r":"F","l":"1.5","v":1.068,"j":0.1},{"r":"F","l":"1.5","v":1.05,"j":-0.08},{"r":"F","l":"1.5","v":1.025,"j":0.01},{"r":"F","l":"1.5","v":1.025,"j":0.04},{"r":"F","l":"1.5","v":1.032,"j":0.06},{"r":"F","l":"1.5","v":1.025,"j":0.07},{"r":"F","l":"1.5","v":0.988,"j":0.01},{"r":"F","l":"1.5","v":0.995,"j":0.05},{"r":"F","l":"1.5","v":0.992,"j":0.09},{"r":"F","l":"1.5","v":0.982,"j":-0.09},{"r":"F","l":"1.5","v":0.972,"j":0.09},
{"r":"F","l":"2","v":1.253,"j":-0.07},{"r":"F","l":"2","v":1.22,"j":0.09},{"r":"F","l":"2","v":1.165,"j":-0.02},{"r":"F","l":"2","v":1.15,"j":-0.01},{"r":"F","l":"2","v":1.155,"j":0.08},{"r":"F","l":"2","v":1.122,"j":-0.1},{"r":"F","l":"2","v":1.113,"j":-0.05},{"r":"F","l":"2","v":1.105,"j":0.05},{"r":"F","l":"2","v":1.098,"j":0.07},{"r":"F","l":"2","v":1.038,"j":-0.02},{"r":"F","l":"2","v":1.022,"j":-0.01},{"r":"F","l":"2","v":1.022,"j":0.08},{"r":"F","l":"2","v":1.017,"j":-0.07},{"r":"F","l":"2","v":0.992,"j":0.03},{"r":"F","l":"2","v":0.978,"j":-0.07},{"r":"F","l":"2","v":0.965,"j":-0.05},{"r":"F","l":"2","v":0.958,"j":0.01},
{"r":"F","l":"3","v":1.435,"j":-0.04},{"r":"F","l":"3","v":1.368,"j":-0.02},{"r":"F","l":"3","v":1.232,"j":-0.02},{"r":"F","l":"3","v":1.212,"j":-0.06},{"r":"F","l":"3","v":1.217,"j":-0.03},{"r":"F","l":"3","v":1.2,"j":0.05},{"r":"F","l":"3","v":1.195,"j":0.09},{"r":"F","l":"3","v":1.182,"j":0.06},{"r":"F","l":"3","v":1.17,"j":-0.01},{"r":"F","l":"3","v":1.092,"j":0.05},{"r":"F","l":"3","v":1.115,"j":-0.03},{"r":"F","l":"3","v":1.083,"j":0.04},{"r":"F","l":"3","v":1.057,"j":0.03},{"r":"F","l":"3","v":1.032,"j":-0.01},{"r":"F","l":"3","v":1.015,"j":-0.05},{"r":"F","l":"3","v":1.012,"j":0.02},{"r":"F","l":"3","v":0.993,"j":-0.01},{"r":"F","l":"3","v":0.975,"j":-0.03},{"r":"F","l":"3","v":0.963,"j":0.06},{"r":"F","l":"3","v":0.942,"j":-0.04},
{"r":"G","l":"1.5","v":1.2,"j":-0.03},{"r":"G","l":"1.5","v":1.153,"j":-0.06},{"r":"G","l":"1.5","v":1.138,"j":-0.05},{"r":"G","l":"1.5","v":1.165,"j":0.05},{"r":"G","l":"1.5","v":1.163,"j":0.08},{"r":"G","l":"1.5","v":1.137,"j":0.04},{"r":"G","l":"1.5","v":1.123,"j":0.02},{"r":"G","l":"1.5","v":1.12,"j":0.09},{"r":"G","l":"1.5","v":1.112,"j":0.05},{"r":"G","l":"1.5","v":1.098,"j":0.03},{"r":"G","l":"1.5","v":1.09,"j":-0.02},{"r":"G","l":"1.5","v":1.067,"j":-0.08},{"r":"G","l":"1.5","v":1.055,"j":-0.08},{"r":"G","l":"1.5","v":1.052,"j":-0.03},{"r":"G","l":"1.5","v":1.053,"j":0.08},
{"r":"G","l":"2","v":1.402,"j":0.08},{"r":"G","l":"2","v":1.34,"j":-0.08},{"r":"G","l":"2","v":1.347,"j":0.04},{"r":"G","l":"2","v":1.347,"j":0.07},{"r":"G","l":"2","v":1.315,"j":0.02},{"r":"G","l":"2","v":1.287,"j":-0.04},{"r":"G","l":"2","v":1.278,"j":-0.01},{"r":"G","l":"2","v":1.253,"j":0.01},{"r":"G","l":"2","v":1.248,"j":-0.03},{"r":"G","l":"2","v":1.245,"j":-0.09},{"r":"G","l":"2","v":1.223,"j":-0.06},{"r":"G","l":"2","v":1.185,"j":0.03},{"r":"G","l":"2","v":1.172,"j":-0.08},{"r":"G","l":"2","v":1.167,"j":-0.09},{"r":"G","l":"2","v":1.152,"j":-0.02},{"r":"G","l":"2","v":1.112,"j":-0.04},{"r":"G","l":"2","v":1.118,"j":0.05},{"r":"G","l":"2","v":1.09,"j":0.09},{"r":"G","l":"2","v":1.07,"j":0.03},
{"r":"G","l":"3","v":1.712,"j":0.07},{"r":"G","l":"3","v":1.713,"j":0.09},{"r":"G","l":"3","v":1.603,"j":0.03},{"r":"G","l":"3","v":1.595,"j":-0.03},{"r":"G","l":"3","v":1.553,"j":0},{"r":"G","l":"3","v":1.55,"j":0.1},{"r":"G","l":"3","v":1.51,"j":-0.05},{"r":"G","l":"3","v":1.503,"j":-0.04},{"r":"G","l":"3","v":1.49,"j":0.03},{"r":"G","l":"3","v":1.442,"j":-0.01},{"r":"G","l":"3","v":1.43,"j":0.1},{"r":"G","l":"3","v":1.408,"j":0.06},{"r":"G","l":"3","v":1.397,"j":0.1},{"r":"G","l":"3","v":1.308,"j":0.04},{"r":"G","l":"3","v":1.3,"j":0.02},{"r":"G","l":"3","v":1.3,"j":0.1},{"r":"G","l":"3","v":1.2,"j":0.01},{"r":"G","l":"3","v":1.183,"j":-0.06},{"r":"G","l":"3","v":1.138,"j":-0.06},{"r":"G","l":"3","v":1.118,"j":0.08},
{"r":"H","l":"1.5","v":1.252,"j":-0.01},{"r":"H","l":"1.5","v":1.198,"j":-0.03},{"r":"H","l":"1.5","v":1.138,"j":-0.05},{"r":"H","l":"1.5","v":1.113,"j":-0.01},{"r":"H","l":"1.5","v":1.12,"j":0.1},{"r":"H","l":"1.5","v":1.087,"j":-0.03},{"r":"H","l":"1.5","v":1.087,"j":-0.07},{"r":"H","l":"1.5","v":1.083,"j":0.04},{"r":"H","l":"1.5","v":1.08,"j":0.07},{"r":"H","l":"1.5","v":1.07,"j":0.02},{"r":"H","l":"1.5","v":1.067,"j":-0.04},{"r":"H","l":"1.5","v":1.063,"j":-0.09},{"r":"H","l":"1.5","v":1.06,"j":-0.01},{"r":"H","l":"1.5","v":1.062,"j":0.05},{"r":"H","l":"1.5","v":1.05,"j":-0.1},{"r":"H","l":"1.5","v":1.05,"j":0.01},{"r":"H","l":"1.5","v":1.052,"j":0.03},{"r":"H","l":"1.5","v":1.042,"j":-0.05},{"r":"H","l":"1.5","v":1.03,"j":-0.02},
{"r":"H","l":"2","v":1.435,"j":-0.08},{"r":"H","l":"2","v":1.333,"j":-0.1},{"r":"H","l":"2","v":1.237,"j":0.08},{"r":"H","l":"2","v":1.217,"j":-0.09},{"r":"H","l":"2","v":1.212,"j":-0.05},{"r":"H","l":"2","v":1.208,"j":0.04},{"r":"H","l":"2","v":1.163,"j":-0.1},{"r":"H","l":"2","v":1.17,"j":-0.04},{"r":"H","l":"2","v":1.133,"j":-0.09},{"r":"H","l":"2","v":1.12,"j":-0.09},{"r":"H","l":"2","v":1.117,"j":0.03},{"r":"H","l":"2","v":1.108,"j":-0.02},{"r":"H","l":"2","v":1.105,"j":0},{"r":"H","l":"2","v":1.095,"j":-0.04},{"r":"H","l":"2","v":1.09,"j":-0.07},{"r":"H","l":"2","v":1.093,"j":0.03},{"r":"H","l":"2","v":1.08,"j":0.05},{"r":"H","l":"2","v":1.072,"j":0.01},{"r":"H","l":"2","v":1.042,"j":-0.05},{"r":"H","l":"2","v":1.033,"j":0.02},
{"r":"H","l":"3","v":1.77,"j":-0.07},{"r":"H","l":"3","v":1.505,"j":0},{"r":"H","l":"3","v":1.397,"j":-0.07},{"r":"H","l":"3","v":1.412,"j":-0.06},{"r":"H","l":"3","v":1.402,"j":0.05},{"r":"H","l":"3","v":1.32,"j":-0.02},{"r":"H","l":"3","v":1.322,"j":0.02},{"r":"H","l":"3","v":1.233,"j":-0.07},{"r":"H","l":"3","v":1.23,"j":0.01},{"r":"H","l":"3","v":1.167,"j":0.04},{"r":"H","l":"3","v":1.162,"j":0.02},{"r":"H","l":"3","v":1.155,"j":-0.08},{"r":"H","l":"3","v":1.153,"j":0},{"r":"H","l":"3","v":1.15,"j":0.01},{"r":"H","l":"3","v":1.138,"j":-0.02},{"r":"H","l":"3","v":1.092,"j":0.01},{"r":"H","l":"3","v":1.088,"j":0.03},{"r":"H","l":"3","v":1.05,"j":-0.03},{"r":"H","l":"3","v":1.012,"j":0.08},
{"r":"I","l":"1.5","v":1.097,"j":-0.07},{"r":"I","l":"1.5","v":1.117,"j":0.06},{"r":"I","l":"1.5","v":1.112,"j":0.07},{"r":"I","l":"1.5","v":1.055,"j":-0.08},{"r":"I","l":"1.5","v":1.055,"j":-0.05},{"r":"I","l":"1.5","v":1.055,"j":0.02},{"r":"I","l":"1.5","v":1.057,"j":0.05},{"r":"I","l":"1.5","v":1.062,"j":0.11},{"r":"I","l":"1.5","v":1.033,"j":-0.02},{"r":"I","l":"1.5","v":1.042,"j":0.09},{"r":"I","l":"1.5","v":1.022,"j":-0.02},{"r":"I","l":"1.5","v":1.018,"j":0.03},{"r":"I","l":"1.5","v":1.037,"j":-0.01},{"r":"I","l":"1.5","v":1.022,"j":0.06},{"r":"I","l":"1.5","v":0.992,"j":-0.04},{"r":"I","l":"1.5","v":1.045,"j":-0.03},
{"r":"I","l":"2","v":1.207,"j":-0.09},{"r":"I","l":"2","v":1.187,"j":-0.06},{"r":"I","l":"2","v":1.128,"j":-0.01},{"r":"I","l":"2","v":1.108,"j":-0.07},{"r":"I","l":"2","v":1.1,"j":-0.08},{"r":"I","l":"2","v":1.105,"j":0.04},{"r":"I","l":"2","v":1.095,"j":0.05},{"r":"I","l":"2","v":1.075,"j":-0.08},{"r":"I","l":"2","v":1.07,"j":0.07},{"r":"I","l":"2","v":1.053,"j":-0.03},{"r":"I","l":"2","v":1.047,"j":-0.01},{"r":"I","l":"2","v":1.055,"j":0.09},{"r":"I","l":"2","v":1.025,"j":-0.09},{"r":"I","l":"2","v":1.022,"j":-0.01},{"r":"I","l":"2","v":1.01,"j":-0.07},{"r":"I","l":"2","v":1.0,"j":-0.07},
{"r":"I","l":"3","v":1.373,"j":-0.04},{"r":"I","l":"3","v":1.313,"j":0.07},{"r":"I","l":"3","v":1.255,"j":-0.06},{"r":"I","l":"3","v":1.212,"j":-0.03},{"r":"I","l":"3","v":1.212,"j":-0.01},{"r":"I","l":"3","v":1.195,"j":0.04},{"r":"I","l":"3","v":1.167,"j":-0.08},{"r":"I","l":"3","v":1.13,"j":-0.08},{"r":"I","l":"3","v":1.13,"j":-0.03},{"r":"I","l":"3","v":1.123,"j":-0.09},{"r":"I","l":"3","v":1.12,"j":0.08},{"r":"I","l":"3","v":1.117,"j":0.09},{"r":"I","l":"3","v":1.1,"j":-0.06},{"r":"I","l":"3","v":1.088,"j":-0.03},{"r":"I","l":"3","v":1.088,"j":0},{"r":"I","l":"3","v":1.057,"j":-0.08},{"r":"I","l":"3","v":1.057,"j":-0.01},{"r":"I","l":"3","v":1.042,"j":-0.01},{"r":"I","l":"3","v":1.045,"j":0.06},
{"r":"J","l":"1.5","v":1.202,"j":0.03},{"r":"J","l":"1.5","v":1.137,"j":0.01},{"r":"J","l":"1.5","v":1.112,"j":-0.09},{"r":"J","l":"1.5","v":1.1,"j":0.02},{"r":"J","l":"1.5","v":1.092,"j":0},{"r":"J","l":"1.5","v":1.078,"j":-0.1},{"r":"J","l":"1.5","v":1.075,"j":-0.08},{"r":"J","l":"1.5","v":1.072,"j":-0.06},{"r":"J","l":"1.5","v":1.07,"j":-0.02},{"r":"J","l":"1.5","v":1.062,"j":-0.03},{"r":"J","l":"1.5","v":1.07,"j":0.03},{"r":"J","l":"1.5","v":1.058,"j":0.05},{"r":"J","l":"1.5","v":1.053,"j":0.01},{"r":"J","l":"1.5","v":1.028,"j":-0.09},{"r":"J","l":"1.5","v":1.03,"j":-0.03},{"r":"J","l":"1.5","v":1.008,"j":-0.09},{"r":"J","l":"1.5","v":0.997,"j":-0.08},
{"r":"J","l":"2","v":1.358,"j":-0.06},{"r":"J","l":"2","v":1.192,"j":-0.06},{"r":"J","l":"2","v":1.215,"j":0.01},{"r":"J","l":"2","v":1.172,"j":0.03},{"r":"J","l":"2","v":1.167,"j":0.04},{"r":"J","l":"2","v":1.133,"j":-0.09},{"r":"J","l":"2","v":1.13,"j":-0.03},{"r":"J","l":"2","v":1.12,"j":-0.02},{"r":"J","l":"2","v":1.1,"j":0.09},{"r":"J","l":"2","v":1.097,"j":-0.08},{"r":"J","l":"2","v":1.082,"j":0.08},{"r":"J","l":"2","v":1.068,"j":0.09},{"r":"J","l":"2","v":1.07,"j":-0.09},{"r":"J","l":"2","v":1.055,"j":0.02},{"r":"J","l":"2","v":1.047,"j":0.01},{"r":"J","l":"2","v":1.033,"j":-0.06},{"r":"J","l":"2","v":1.027,"j":-0.01},{"r":"J","l":"2","v":1.013,"j":-0.02},{"r":"J","l":"2","v":0.987,"j":0.06},
{"r":"J","l":"3","v":1.517,"j":0.1},{"r":"J","l":"3","v":1.317,"j":0.04},{"r":"J","l":"3","v":1.298,"j":0},{"r":"J","l":"3","v":1.288,"j":0.05},{"r":"J","l":"3","v":1.278,"j":-0.08},{"r":"J","l":"3","v":1.245,"j":0.02},{"r":"J","l":"3","v":1.207,"j":0.07},{"r":"J","l":"3","v":1.188,"j":-0.09},{"r":"J","l":"3","v":1.167,"j":-0.09},{"r":"J","l":"3","v":1.153,"j":-0.05},{"r":"J","l":"3","v":1.15,"j":0.04},{"r":"J","l":"3","v":1.155,"j":0.07},{"r":"J","l":"3","v":1.12,"j":0.01},{"r":"J","l":"3","v":1.095,"j":0.04},{"r":"J","l":"3","v":1.092,"j":0.09},{"r":"J","l":"3","v":1.05,"j":-0.08},{"r":"J","l":"3","v":1.057,"j":-0.01},{"r":"J","l":"3","v":1.07,"j":0.03},{"r":"J","l":"3","v":0.997,"j":-0.07},{"r":"J","l":"3","v":0.982,"j":-0.09},
{"r":"K","l":"1.5","v":1.102,"j":-0.02},{"r":"K","l":"1.5","v":1.098,"j":0.05},{"r":"K","l":"1.5","v":1.085,"j":0.04},{"r":"K","l":"1.5","v":1.063,"j":-0.07},{"r":"K","l":"1.5","v":1.055,"j":-0.03},{"r":"K","l":"1.5","v":1.062,"j":0.06},{"r":"K","l":"1.5","v":1.042,"j":-0.01},{"r":"K","l":"1.5","v":1.037,"j":-0.03},{"r":"K","l":"1.5","v":1.025,"j":0.03},{"r":"K","l":"1.5","v":1.017,"j":-0.05},{"r":"K","l":"1.5","v":1.03,"j":0.01},{"r":"K","l":"1.5","v":1.05,"j":0.02},{"r":"K","l":"1.5","v":1.05,"j":-0.05},
{"r":"K","l":"2","v":1.183,"j":0.07},{"r":"K","l":"2","v":1.17,"j":0.05},{"r":"K","l":"2","v":1.162,"j":-0.05},{"r":"K","l":"2","v":1.153,"j":0.03},{"r":"K","l":"2","v":1.142,"j":0.02},{"r":"K","l":"2","v":1.13,"j":0.07},{"r":"K","l":"2","v":1.12,"j":0.09},{"r":"K","l":"2","v":1.105,"j":-0.01},{"r":"K","l":"2","v":1.113,"j":0.01},{"r":"K","l":"2","v":1.058,"j":-0.09},{"r":"K","l":"2","v":1.05,"j":-0.02},{"r":"K","l":"2","v":1.05,"j":0.01},{"r":"K","l":"2","v":1.055,"j":0.09},{"r":"K","l":"2","v":1.037,"j":0.07},
{"r":"K","l":"3","v":1.367,"j":0.09},{"r":"K","l":"3","v":1.327,"j":0.08},{"r":"K","l":"3","v":1.28,"j":-0.03},{"r":"K","l":"3","v":1.288,"j":0.01},{"r":"K","l":"3","v":1.272,"j":0.01},{"r":"K","l":"3","v":1.22,"j":-0.01},{"r":"K","l":"3","v":1.198,"j":0.03},{"r":"K","l":"3","v":1.195,"j":0.05},{"r":"K","l":"3","v":1.188,"j":-0.08},{"r":"K","l":"3","v":1.178,"j":-0.09},{"r":"K","l":"3","v":1.185,"j":0.08},{"r":"K","l":"3","v":1.147,"j":-0.07},{"r":"K","l":"3","v":1.137,"j":-0.03},{"r":"K","l":"3","v":1.102,"j":-0.09},{"r":"K","l":"3","v":1.088,"j":-0.07},{"r":"K","l":"3","v":1.083,"j":-0.04},{"r":"K","l":"3","v":1.082,"j":-0.03},{"r":"K","l":"3","v":1.067,"j":0.05},{"r":"K","l":"3","v":1.022,"j":0.08},
{"r":"L","l":"1.5","v":1.2,"j":-0.03},{"r":"L","l":"1.5","v":1.175,"j":-0.01},{"r":"L","l":"1.5","v":1.175,"j":0.04},{"r":"L","l":"1.5","v":1.16,"j":0.11},{"r":"L","l":"1.5","v":1.125,"j":-0.08},{"r":"L","l":"1.5","v":1.123,"j":0.01},{"r":"L","l":"1.5","v":1.112,"j":-0.07},{"r":"L","l":"1.5","v":1.095,"j":-0.06},{"r":"L","l":"1.5","v":1.08,"j":-0.02},{"r":"L","l":"1.5","v":1.07,"j":-0.05},{"r":"L","l":"1.5","v":1.07,"j":0.01},{"r":"L","l":"1.5","v":1.067,"j":0.08},{"r":"L","l":"1.5","v":1.062,"j":0.11},{"r":"L","l":"1.5","v":1.053,"j":0.09},{"r":"L","l":"1.5","v":1.025,"j":-0.05},{"r":"L","l":"1.5","v":1.032,"j":0.01},{"r":"L","l":"1.5","v":1.023,"j":0.01},
{"r":"L","l":"2","v":1.3,"j":-0.09},{"r":"L","l":"2","v":1.283,"j":-0.06},{"r":"L","l":"2","v":1.253,"j":-0.09},{"r":"L","l":"2","v":1.252,"j":-0.03},{"r":"L","l":"2","v":1.215,"j":-0.07},{"r":"L","l":"2","v":1.195,"j":0.03},{"r":"L","l":"2","v":1.18,"j":0.03},{"r":"L","l":"2","v":1.167,"j":-0.04},{"r":"L","l":"2","v":1.137,"j":0.05},{"r":"L","l":"2","v":1.127,"j":-0.1},{"r":"L","l":"2","v":1.122,"j":-0.07},{"r":"L","l":"2","v":1.1,"j":-0.07},{"r":"L","l":"2","v":1.095,"j":-0.04},{"r":"L","l":"2","v":1.1,"j":0.05},{"r":"L","l":"2","v":1.088,"j":0.03},{"r":"L","l":"2","v":1.067,"j":0.01},{"r":"L","l":"2","v":1.05,"j":-0.09},{"r":"L","l":"2","v":1.047,"j":-0.05},
{"r":"L","l":"3","v":1.48,"j":-0.08},{"r":"L","l":"3","v":1.448,"j":0.08},{"r":"L","l":"3","v":1.403,"j":-0.07},{"r":"L","l":"3","v":1.353,"j":-0.05},{"r":"L","l":"3","v":1.338,"j":0.1},{"r":"L","l":"3","v":1.322,"j":-0.08},{"r":"L","l":"3","v":1.315,"j":-0.05},{"r":"L","l":"3","v":1.265,"j":-0.01},{"r":"L","l":"3","v":1.232,"j":-0.05},{"r":"L","l":"3","v":1.217,"j":-0.04},{"r":"L","l":"3","v":1.208,"j":0.04},{"r":"L","l":"3","v":1.197,"j":0.02},{"r":"L","l":"3","v":1.192,"j":-0.02},{"r":"L","l":"3","v":1.163,"j":0.07},{"r":"L","l":"3","v":1.157,"j":-0.03},{"r":"L","l":"3","v":1.123,"j":0.01},{"r":"L","l":"3","v":1.108,"j":0.03},{"r":"L","l":"3","v":1.07,"j":0.08},{"r":"L","l":"3","v":1.045,"j":0.06}
]},
"transform": [{"calculate": "datum.l == '1.5' ? 1 : (datum.l == '2' ? 2 : 3)", "as": "pos"}],
"facet": {"field": "r", "type": "nominal", "header": {"title": null, "labelExpr": "['Australia and Oceania','Central America','East Asia','Eastern Europe and Central Asia','Middle East','North Africa','North America','South Asia','South America','Southeast Asia','Sub−Saharan Africa','Western Europe'][indexof('ABCDEFGHIJKL', datum.value)]", "labelFontSize": 16, "labelFontWeight": "bold", "labelColor": "#000000", "labelFont": "Liberation Sans", "labelPadding": 3}},
"columns": 3,
"spacing": {"row": 29, "column": 34},
"resolve": {"axis": {"x": "independent", "y": "independent"}},
"spec": {
  "width": 370,
  "height": 308,
  "layer": [
    {
      "transform": [
        {"filter": "isValid(datum.w)"},
        {"calculate": "datum.pos - datum.w", "as": "xl"},
        {"calculate": "datum.pos + datum.w", "as": "xr"}
      ],
      "mark": {"type": "area", "orient": "horizontal", "interpolate": "monotone", "stroke": "#333333", "strokeWidth": 1, "fillOpacity": 1},
      "encoding": {
        "y": {"field": "y", "type": "quantitative", "title": null, "scale": {"domain": [0.535, 2.07], "nice": false, "zero": false}, "axis": {"values": [0.6, 0.8, 1.0, 1.2, 1.4, 1.6, 1.8, 2.0], "format": ".1f"}},
        "x": {"field": "xl", "type": "quantitative", "stack": null, "title": "Warming Level (°C)", "scale": {"domain": [0.4, 3.6], "nice": false, "zero": false}, "axis": {"values": [1, 2, 3], "labelExpr": "datum.value == 1 ? '1.5' : (datum.value == 2 ? '2' : '3')", "titlePadding": 8}},
        "x2": {"field": "xr"},
        "fill": {"field": "l", "type": "nominal", "scale": {"domain": ["1.5", "2", "3"], "range": ["#F8E9A6", "#FAAE6B", "#FF6262"]}, "legend": null}
      }
    },
    {
      "transform": [{"filter": "isValid(datum.v)"}, {"calculate": "datum.pos + datum.j", "as": "px"}],
      "mark": {"type": "circle", "size": 22, "color": "#000000", "opacity": 1},
      "encoding": {
        "y": {"field": "v", "type": "quantitative", "title": null},
        "x": {"field": "px", "type": "quantitative", "title": "Warming Level (°C)"}
      }
    },
    {
      "transform": [{"filter": "isValid(datum.v)"}, {"aggregate": [{"op": "mean", "field": "v", "as": "mv"}], "groupby": ["r", "l", "pos"]}],
      "mark": {"type": "circle", "size": 16, "color": "#FFFFFF", "opacity": 1},
      "encoding": {
        "y": {"field": "mv", "type": "quantitative", "title": null},
        "x": {"field": "pos", "type": "quantitative", "title": "Warming Level (°C)"}
      }
    }
  ]
}
}
